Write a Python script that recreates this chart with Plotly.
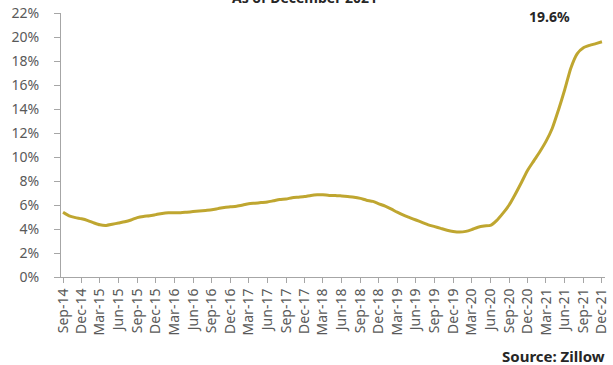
import plotly.graph_objects as go
import pandas as pd

months = pd.date_range("2014-09-01", "2021-12-01", freq="MS").strftime("%Y-%m-%d").tolist()
values = [
    5.4, 5.1, 4.95, 4.85,
    4.7, 4.5, 4.35, 4.3, 4.4, 4.5, 4.6, 4.75, 4.95, 5.05, 5.1, 5.2,
    5.3, 5.35, 5.35, 5.35, 5.4, 5.45, 5.5, 5.55, 5.6, 5.7, 5.8, 5.85,
    5.9, 6.0, 6.1, 6.15, 6.2, 6.25, 6.35, 6.45, 6.5, 6.6, 6.65, 6.7,
    6.8, 6.85, 6.85, 6.8, 6.8, 6.75, 6.7, 6.65, 6.55, 6.4, 6.3, 6.1,
    5.9, 5.65, 5.4, 5.15, 4.95, 4.75, 4.55, 4.35, 4.2, 4.05, 3.9, 3.8,
    3.75, 3.8, 3.95, 4.15, 4.25, 4.3, 4.7, 5.3, 6.0, 6.9, 7.9, 8.9,
    9.7, 10.5, 11.3, 12.4, 13.9, 15.6, 17.4, 18.6, 19.1, 19.3, 19.45, 19.6,
]
x_tick_vals = months[::3]
x_tick_labels = pd.to_datetime(x_tick_vals).strftime("%b-%y").tolist()
y_ticks = list(range(0, 23, 2))
y_tick_labels = [f"{v}%" for v in y_ticks]
title_text = "As of December 2021"
last_label = "19.6%"
source_text = "Source: Zillow"

FONT = "Noto Sans"
GREY = "#595959"

fig = go.Figure()
fig.add_trace(go.Scatter(
    x=months, y=values, mode="lines",
    line=dict(color="#BFA630", width=3, shape="spline", smoothing=0.6),
    hoverinfo="skip", showlegend=False,
))

fig.update_layout(
    width=613, height=365,
    margin=dict(l=61, r=3, t=13, b=88),
    paper_bgcolor="white", plot_bgcolor="white",
    font=dict(family=FONT, size=14, color=GREY),
    xaxis=dict(
        type="date",
        range=["2014-08-22", "2021-12-16"],
        tickmode="array", tickvals=x_tick_vals, ticktext=x_tick_labels,
        tickangle=-90,
        ticklabeloverflow="allow",
        ticks="outside", ticklen=5, tickcolor="#A6A6A6",
        showline=True, linecolor="#A6A6A6", linewidth=1,
        showgrid=False, zeroline=False,
        tickfont=dict(family=FONT, size=14, color=GREY),
    ),
    yaxis=dict(
        range=[0, 22],
        tickvals=y_ticks, ticktext=y_tick_labels,
        ticks="outside", ticklen=6, tickcolor="#A6A6A6",
        showline=True, linecolor="#A6A6A6", linewidth=1,
        showgrid=False, zeroline=False,
        ticklabelstandoff=12,
        tickfont=dict(family=FONT, size=14, color=GREY),
    ),
)

fig.add_annotation(
    x=0.448, y=1.0 + 15 / 264, xref="paper", yref="paper",
    text=f"<b>{title_text}</b>", showarrow=False,
    font=dict(family=FONT, size=14, color="#262626"),
    xanchor="center", yanchor="middle",
)
fig.add_annotation(
    x=months[-1], y=values[-1], xref="x", yref="y",
    text=f"<b>{last_label}</b>", showarrow=False,
    font=dict(family=FONT, size=14, color="#262626"),
    xanchor="center", yanchor="bottom", xshift=-52, yshift=14,
)
fig.add_annotation(
    x=1.0, y=0, xref="paper", yref="paper",
    text=f"<b>{source_text}</b>", showarrow=False,
    font=dict(family=FONT, size=15, color="#262626"),
    xanchor="right", yanchor="top", yshift=-67, xshift=2,
)

fig.write_html("out.html")
